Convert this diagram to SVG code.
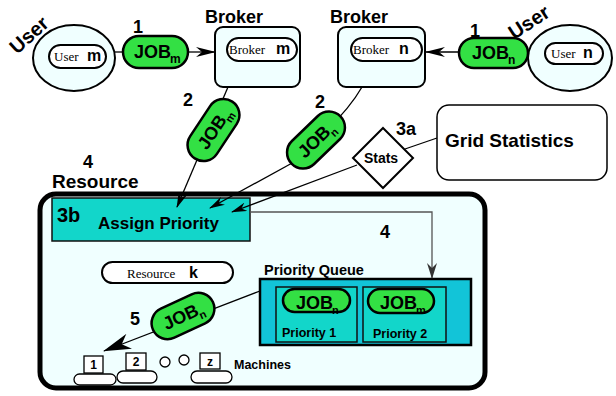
<svg xmlns="http://www.w3.org/2000/svg" width="616" height="396" viewBox="0 0 616 396">
<defs>
<style>
.b{font-family:"Liberation Sans",Arial,sans-serif;font-weight:bold;fill:#000}
.s{font-family:"Liberation Serif","Times New Roman",serif;fill:#000}
.pill{fill:#33e044;stroke:#000;stroke-width:2.5}
.ipill{fill:#fff;stroke:#000;stroke-width:2}
.lc{fill:#f0ffff;stroke:#000;stroke-width:2}
.ln{fill:none;stroke:#000;stroke-width:1.3}
.tq{fill:#12d6ca;stroke:#111;stroke-width:1.5}
.mach{fill:#fff;stroke:#000;stroke-width:1.3}
</style>
<marker id="ah" viewBox="0 0 20 10" refX="19" refY="5" markerWidth="20" markerHeight="10" markerUnits="userSpaceOnUse" orient="auto"><path d="M0,0 L20,5 L0,10 L6,5 z" fill="#000"/></marker>
<marker id="ahm" viewBox="0 0 16 9" refX="15" refY="4.5" markerWidth="16" markerHeight="9" markerUnits="userSpaceOnUse" orient="auto"><path d="M0,0 L16,4.5 L0,9 L5,4.5 z" fill="#000"/></marker>
<marker id="ahg" viewBox="0 0 16 10" refX="15" refY="5" markerWidth="16" markerHeight="10" markerUnits="userSpaceOnUse" orient="auto"><path d="M0,0 L16,5 L0,10 L5,5 z" fill="#333"/></marker>
<marker id="ahb" viewBox="0 0 28 16" refX="27" refY="8" markerWidth="28" markerHeight="16" markerUnits="userSpaceOnUse" orient="auto"><path d="M0,0 L28,8 L0,16 L8,8 z" fill="#000"/></marker>
</defs>

<g id="resource">
<rect x="40" y="194" width="445" height="194" rx="16" fill="#f0ffff" stroke="#000" stroke-width="5"/>
<text class="b" x="52" y="188" font-size="19">Resource</text>
<text class="b" x="83" y="168" font-size="18">4</text>
<rect class="ipill" x="102" y="262" width="131" height="21" rx="10.5" stroke-width="1.5"/>
<text class="s" x="127" y="278" font-size="13">Resource</text>
<text class="b" x="189" y="278" font-size="16">k</text>
</g>

<g id="assign-priority">
<rect class="tq" x="52" y="198" width="198" height="43"/>
<text class="b" x="57" y="222" font-size="20">3b</text>
<text class="b" x="98" y="229" font-size="17">Assign Priority</text>
</g>

<g id="priority-queue">
<text class="b" x="264" y="275" font-size="14.5">Priority Queue</text>
<rect x="260" y="279" width="211" height="66" fill="#12c4d8" stroke="#000" stroke-width="2.5"/>
<rect class="tq" x="276" y="287" width="81" height="55"/>
<rect class="tq" x="363" y="287" width="83" height="55"/>
<rect class="pill" x="283" y="289" width="67" height="23" rx="11.5" stroke-width="2"/>
<text class="b" x="296" y="309" font-size="18">JOB<tspan dx="-1" dy="5" font-size="11">n</tspan></text>
<rect class="pill" x="368" y="289" width="66" height="24" rx="12" stroke-width="2"/>
<text class="b" x="380" y="309" font-size="18">JOB<tspan dx="-1" dy="5" font-size="11">m</tspan></text>
<text class="b" x="282" y="337" font-size="12.5">Priority 1</text>
<text class="b" x="373" y="338" font-size="12.5">Priority 2</text>
</g>

<g id="machines">
<rect class="mach" x="74" y="374" width="42" height="11" rx="5.5"/>
<rect class="mach" x="84" y="356" width="19" height="17"/>
<text class="b" x="93.5" y="369" font-size="12" text-anchor="middle">1</text>
<rect class="mach" x="117" y="371" width="40" height="12" rx="6"/>
<rect class="mach" x="126" y="353" width="20" height="17"/>
<text class="b" x="136" y="366" font-size="12" text-anchor="middle">2</text>
<circle class="mach" cx="165" cy="362" r="5"/>
<circle class="mach" cx="184" cy="360" r="5"/>
<rect class="mach" x="191" y="371" width="41" height="12" rx="6"/>
<rect class="mach" x="200" y="353" width="20" height="16"/>
<text class="b" x="210" y="366" font-size="12" text-anchor="middle">z</text>
<text class="b" x="234" y="369" font-size="12.5">Machines</text>
</g>

<g id="connectors">
<line class="ln" x1="115" y1="52" x2="125" y2="52"/>
<line class="ln" x1="188" y1="52" x2="215" y2="52" marker-end="url(#ah)"/>
<line class="ln" x1="459" y1="52" x2="426" y2="52" marker-end="url(#ah)"/>
<line class="ln" x1="228" y1="87" x2="177" y2="207" marker-end="url(#ahm)"/>
<path class="ln" d="M362,87 Q350,108 325,132"/>
<line class="ln" x1="294" y1="162" x2="210" y2="208" marker-end="url(#ahm)"/>
<line class="ln" x1="357" y1="165" x2="232" y2="212" marker-end="url(#ahm)"/>
<line class="ln" x1="405" y1="149" x2="437" y2="138"/>
<polyline points="250,212 432,212 432,278" fill="none" stroke="#555" stroke-width="1.3" marker-end="url(#ahg)"/>
<line class="ln" x1="260" y1="291" x2="104" y2="351" marker-end="url(#ahb)"/>
</g>

<g id="user-m">
<ellipse class="lc" cx="74" cy="58" rx="41" ry="33"/>
<rect class="ipill" x="49" y="45" width="57" height="23" rx="11.5"/>
<text class="s" x="54" y="61" font-size="13">User</text>
<text class="b" x="87" y="61" font-size="16">m</text>
<text class="b" x="17" y="55" font-size="20" transform="rotate(-42 17 55)">User</text>
</g>

<g id="job-m-1">
<rect class="pill" x="123" y="36" width="65" height="32" rx="16"/>
<text class="b" x="134" y="58" font-size="18">JOB<tspan dx="-1" dy="5" font-size="12">m</tspan></text>
<text class="b" x="133" y="33" font-size="18">1</text>
</g>

<g id="broker-m">
<text class="b" x="205" y="23" font-size="18">Broker</text>
<rect class="lc" x="215" y="27" width="85" height="60" rx="8"/>
<rect class="ipill" x="227" y="38" width="70" height="23" rx="11.5"/>
<text class="s" x="229" y="54" font-size="13">Broker</text>
<text class="b" x="276" y="54" font-size="16">m</text>
</g>

<g id="broker-n">
<text class="b" x="330" y="23" font-size="18">Broker</text>
<rect class="lc" x="338" y="27" width="87" height="60" rx="8"/>
<rect class="ipill" x="351" y="38" width="71" height="23" rx="11.5"/>
<text class="s" x="353" y="54" font-size="13">Broker</text>
<text class="b" x="399" y="54" font-size="16">n</text>
</g>

<g id="user-n">
<ellipse class="lc" cx="570" cy="58" rx="42" ry="33"/>
<rect class="ipill" x="545" y="43" width="58" height="21" rx="10.5"/>
<text class="s" x="551" y="58" font-size="13">User</text>
<text class="b" x="583" y="58" font-size="16">n</text>
<text class="b" x="514" y="40" font-size="20" transform="rotate(-33 514 40)">User</text>
</g>

<g id="job-n-1">
<rect class="pill" x="459" y="38" width="69" height="30" rx="15"/>
<text class="b" x="472" y="59" font-size="18">JOB<tspan dx="-1" dy="5" font-size="12">n</tspan></text>
<text class="b" x="470" y="37" font-size="18">1</text>
</g>

<g id="job-m-2">
<g transform="translate(213.5 130) rotate(-56.5)">
<rect class="pill" x="-34" y="-16" width="68" height="32" rx="16"/>
<text class="b" x="-21" y="6" font-size="18">JOB<tspan dx="-1" dy="5" font-size="11">m</tspan></text>
</g>
<text class="b" x="183" y="106" font-size="18">2</text>
</g>

<g id="job-n-2">
<g transform="translate(316 140) rotate(-44)">
<rect class="pill" x="-34" y="-16" width="68" height="32" rx="16"/>
<text class="b" x="-21" y="6" font-size="18">JOB<tspan dx="-1" dy="5" font-size="11">n</tspan></text>
</g>
<text class="b" x="315" y="108" font-size="18">2</text>
</g>

<g id="stats">
<polygon points="383,128 413,158 383,188 353,158" fill="#fff" stroke="#000" stroke-width="2"/>
<text class="b" x="381" y="163" font-size="14" text-anchor="middle">Stats</text>
<text class="b" x="396" y="135" font-size="18">3a</text>
</g>

<g id="grid-statistics">
<rect x="437" y="105" width="170" height="75" rx="12" fill="#fff" stroke="#000" stroke-width="1.5"/>
<text class="b" x="445" y="147" font-size="19">Grid Statistics</text>
</g>

<g id="job-n-5">
<g transform="translate(183 316) rotate(-25)">
<rect class="pill" x="-33" y="-16" width="66" height="32" rx="16"/>
<text class="b" x="-21" y="6" font-size="18">JOB<tspan dx="-1" dy="5" font-size="11">n</tspan></text>
</g>
<text class="b" x="130" y="325" font-size="18">5</text>
</g>

<g id="step4">
<text class="b" x="380" y="238" font-size="18">4</text>
</g>
</svg>
